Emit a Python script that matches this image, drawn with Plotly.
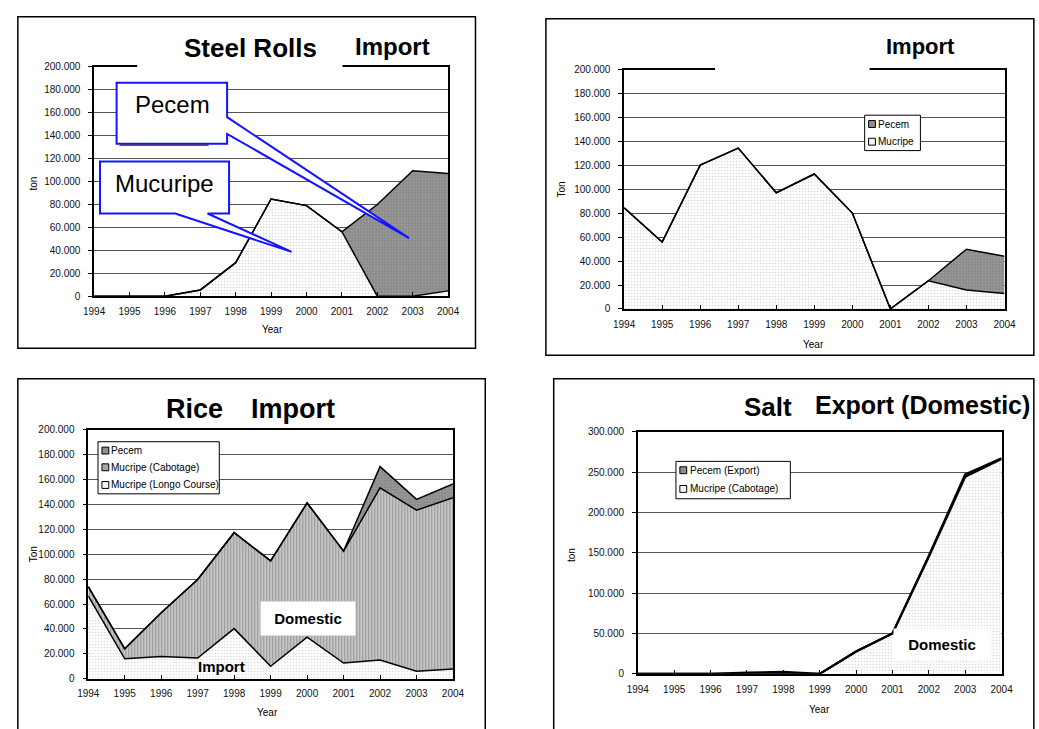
import plotly.graph_objects as go

W, H = 1039, 729
FONT = "Liberation Sans, Arial, sans-serif"

years = list(range(1994, 2005))

# Steel Rolls import (ton)
steel_mucuripe = [0, 0, 0, 5400, 29200, 84800, 79000, 56200, 0, 0, 4600]
steel_pecem = [0, 0, 0, 0, 0, 0, 0, 0, 80000, 109400, 102500]

# Import (ton)
imp_mucripe = [84600, 56000, 120300, 134600, 97200, 112900, 80200, 0, 23600, 15900, 12900]
imp_pecem = [0, 0, 0, 0, 0, 0, 0, 0, 0, 34100, 31100]

# Rice import (ton)
rice_longo = [66600, 16000, 17900, 16600, 40300, 10000, 33400, 12600, 15000, 6000, 7900]
rice_cabotage = [7400, 8000, 35100, 63100, 77100, 84700, 107900, 90000, 138400, 129500, 137600]
rice_pecem = [0, 0, 0, 0, 0, 0, 0, 0, 17100, 8700, 11100]

# Salt export (ton)
salt_mucripe = [0, 0, 0, 0, 0, 0, 27600, 50000, 145000, 244300, 266300]
salt_pecem = [0, 0, 0, 1500, 2500, 0, 0, 0, 1500, 3000, 1000]


def px(x):
    return x / W


def py(y):
    return 1 - y / H


LIGHT = dict(shape=".", bgcolor="white", fgcolor="#a8a8a8", size=3, solidity=0.2)
DARK = dict(shape=".", bgcolor="#8a8a8a", fgcolor="#b4b4b4", size=3, solidity=0.3)
STRIPE = dict(shape="|", bgcolor="#d4d4d4", fgcolor="#5a5a5a", size=3, solidity=0.5)

fig = go.Figure()


def area(values, sub, group, pattern, lw=1.5):
    fig.add_trace(go.Scatter(
        x=years, y=values, mode="lines", stackgroup=group,
        line=dict(color="black", width=lw), fillpattern=pattern,
        xaxis="x" + sub, yaxis="y" + sub, showlegend=False, hoverinfo="skip",
    ))


area(steel_mucuripe, "", "s1", LIGHT)
area(steel_pecem, "", "s1", DARK)
area(imp_mucripe, "2", "s2", LIGHT)
area(imp_pecem, "2", "s2", DARK)
area(rice_longo, "3", "s3", LIGHT)
area(rice_cabotage, "3", "s3", STRIPE)
area(rice_pecem, "3", "s3", DARK)
area(salt_mucripe, "4", "s4", LIGHT, 2.2)
area(salt_pecem, "4", "s4", DARK, 2.2)

tick_font = dict(family=FONT, size=10, color="#111")


def xax(x0, x1, anchor):
    return dict(domain=[px(x0), px(x1)], anchor=anchor, range=[1994, 2004],
                tickvals=years, ticks="inside", ticklen=4, tickcolor="black",
                showline=True, mirror=True, linecolor="black", linewidth=1.5,
                showgrid=False, zeroline=False, tickfont=tick_font,
                ticklabelstandoff=5, fixedrange=True)


def yax(y0, y1, anchor, top, step):
    return dict(domain=[py(y1), py(y0)], anchor=anchor, range=[0, top],
                dtick=step, tick0=0, tickformat=",d", ticks="outside",
                ticklen=4, tickcolor="black", showline=True, mirror=True,
                linecolor="black", linewidth=1.5, showgrid=True,
                gridcolor="#555", gridwidth=1, zeroline=False,
                tickfont=tick_font, ticklabelstandoff=6, fixedrange=True)


fig.update_layout(
    xaxis=xax(85, 447, "y"), yaxis=yax(62, 295, "x", 200000, 20000),
    xaxis2=xax(627, 1016, "y2"), yaxis2=yax(65, 308, "x2", 200000, 20000),
    xaxis3=xax(79, 452, "y3"), yaxis3=yax(431, 684, "x3", 200000, 20000),
    xaxis4=xax(641, 1013, "y4"), yaxis4=yax(433, 679, "x4", 300000, 50000),
)

shapes = []
annotations = []


def rect(x0, y0, x1, y1, line="black", lw=1.5, fill="rgba(0,0,0,0)"):
    shapes.append(dict(type="rect", xref="paper", yref="paper",
                       x0=px(x0), x1=px(x1), y0=py(y1), y1=py(y0),
                       line=dict(color=line, width=lw), fillcolor=fill,
                       layer="above"))


def text(s, x, y, size, bold=False, angle=0, bg=None, w=None, h=None, anchor="center"):
    a = dict(text=("<b>%s</b>" % s) if bold else s, xref="paper", yref="paper",
             x=px(x), y=py(y), xanchor=anchor, yanchor="middle",
             showarrow=False, textangle=angle,
             font=dict(family=FONT, size=size, color="black"))
    if bg:
        a["bgcolor"] = bg
    if w:
        a["width"] = w
    if h:
        a["height"] = h
    annotations.append(a)


# outer panel frames
rect(7, 11, 475, 348)
rect(547, 13, 1046, 355)
rect(7, 379, 485, 740)
rect(555, 379, 1046, 740)

# title boxes interrupting the top frame
rect(129, 56, 339, 67, line="white", lw=0, fill="white")
rect(720, 59, 878, 70, line="white", lw=0, fill="white")

# titles
text("Steel Rolls", 245, 43, 26, bold=True)
text("Import", 390, 41, 24, bold=True)
text("Import", 930, 41, 22, bold=True)
text("Rice", 188, 410, 27, bold=True)
text("Import", 288, 410, 27, bold=True)
text("Salt", 774, 408, 26, bold=True)
text("Export (Domestic)", 932, 406, 25, bold=True)

# axis titles
for s, x, y in [("ton", 23, 180), ("Ton", 563, 187), ("Ton", 23, 557), ("ton", 574, 558)]:
    text(s, x, y, 10, angle=-90)
for x, y in [(267, 329), (821, 344), (262, 718), (827, 715)]:
    text("Year", x, y, 10)


# callouts on the steel rolls chart
def callout(pts):
    d = "M " + " L ".join("%f,%f" % (px(a), py(b)) for a, b in pts) + " Z"
    shapes.append(dict(type="path", xref="paper", yref="paper", path=d,
                       line=dict(color="#1414ff", width=2), fillcolor="white",
                       layer="above"))


callout([(108, 78), (221, 78), (221, 113), (407, 236), (221, 130),
         (221, 140), (108, 140)])
shapes.append(dict(type="line", xref="paper", yref="paper", x0=px(111), x1=px(202),
                   y0=py(141.5), y1=py(141.5), line=dict(color="black", width=1),
                   layer="above"))
callout([(91, 158), (223, 158), (223, 211), (201, 211), (287, 250),
         (168, 211), (91, 211)])
text("Pecem", 165, 100, 24)
text("Mucuripe", 157, 180, 24)

# series labels on the charts
text("Domestic", 304, 623, 15, bold=True, bg="white", w=92, h=31)
text("Import", 215, 672, 15, bold=True)
text("Domestic", 952, 649, 15, bold=True, bg="white", w=94, h=28)


# legends
def legend(box, entries, sq_x, txt_x):
    rect(*box, lw=1, fill="white")
    for label, y, fill in entries:
        rect(sq_x, y - 3.5, sq_x + 7, y + 3.5, lw=1, fill=fill)
        text(label, txt_x, y, 10, anchor="left")


legend((873, 111, 930, 147),
       [("Pecem", 120, "#8e8e8e"), ("Mucripe", 138, "#f4f4f4")], 877, 885)
legend((89, 443, 213, 496),
       [("Pecem", 452, "#8e8e8e"), ("Mucripe (Cabotage)", 469, "#a8a8a8"),
        ("Mucripe (Longo Course)", 487, "#f4f4f4")], 93, 100)
legend((680, 463, 797, 501),
       [("Pecem (Export)", 472, "#8e8e8e"), ("Mucripe (Cabotage)", 491, "#f4f4f4")],
       684, 692)

fig.update_layout(
    width=W, height=H, margin=dict(l=0, r=0, t=0, b=0),
    paper_bgcolor="white", plot_bgcolor="white", separators=",.",
    font=dict(family=FONT, size=10, color="black"),
    shapes=shapes, annotations=annotations, showlegend=False,
)

fig.write_html(
    "out.html",
    config={"displayModeBar": False},
    post_script="document.body.style.margin='0';",
)
